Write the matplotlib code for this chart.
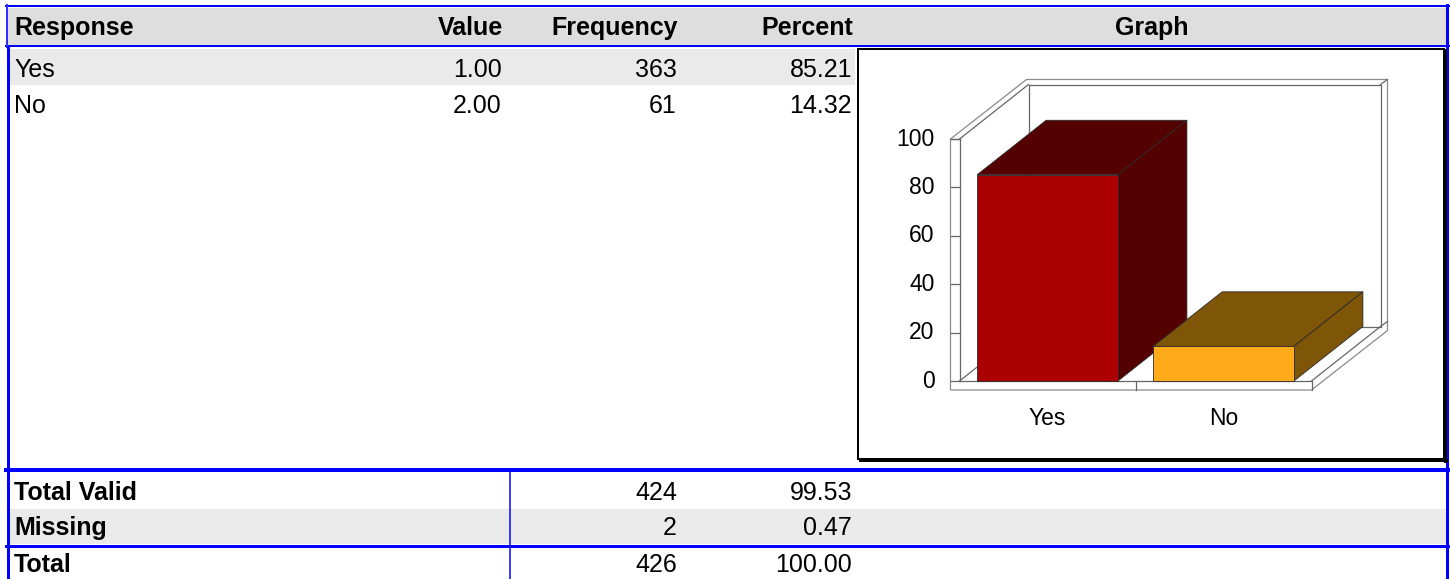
import matplotlib
matplotlib.use("Agg")
import matplotlib.pyplot as plt
from matplotlib.patches import Rectangle, Polygon
from matplotlib import font_manager

# data
responses = ["Yes", "No"]
values = [1.00, 2.00]
frequency = [363, 61]
percent = [85.21, 14.32]
summary_labels = ["Total Valid", "Missing", "Total"]
summary_freq = [424, 2, 426]
summary_pct = [99.53, 0.47, 100.00]
headers = ["Response", "Value", "Frequency", "Percent", "Graph"]
yticks = [0, 20, 40, 60, 80, 100]

front_colors = ["#AA0000", "#FFAA18"]
dark_colors = ["#550000", "#7F5508"]

names = {f.name for f in font_manager.fontManager.ttflist}
TFONT = "Liberation Sans"
CFONT = "Liberation Sans Narrow" if "Liberation Sans Narrow" in names else "Liberation Sans"
CSIZE = 19 if CFONT == "Liberation Sans Narrow" else 16.5
BLUE = "#0000FF"

W, H = 1450, 579
fig = plt.figure(figsize=(W / 100, H / 100), dpi=100)
ax = fig.add_axes([0, 0, 1, 1])
ax.set_xlim(0, W)
ax.set_ylim(H, 0)
ax.axis("off")

def px(n):
    return n * 72 / 100

def cell(x, y, s, ha, bold=False):
    ax.text(x, y, s, fontfamily=TFONT, fontsize=18, va="baseline", ha=ha,
            fontweight="bold" if bold else "normal")

# header
ax.add_patch(Rectangle((8, 8), 1438, 37, color="#DEDEDE", lw=0))
ax.plot([6, 1449], [6, 6], color=BLUE, lw=px(2))
ax.plot([6, 1449], [46, 46], color=BLUE, lw=px(2))
ax.plot([7, 7], [5, 47], color="#3030FF", lw=px(2))
ax.plot([8, 8], [47, 579], color=BLUE, lw=px(3))
ax.plot([1447.5, 1447.5], [5, 579], color=BLUE, lw=px(3))

hy = 35
cell(14, hy, headers[0], "left", True)
cell(503, hy, headers[1], "right", True)
cell(678, hy, headers[2], "right", True)
cell(853, hy, headers[3], "right", True)
cell(1152, hy, headers[4], "center", True)

# response rows
row_y = [77, 113]
ax.add_patch(Rectangle((9.5, 49), 846, 36, color="#EAEAEA", lw=0))
for i, r in enumerate(responses):
    y = row_y[i]
    cell(14, y, r, "left")
    cell(502, y, f"{values[i]:.2f}", "right")
    cell(677, y, f"{frequency[i]}", "right")
    cell(852, y, f"{percent[i]:.2f}", "right")

# graph box
ax.add_patch(Rectangle((858, 48.5), 586, 410.5, facecolor="white", edgecolor="black", lw=px(2)))
ax.plot([1445, 1445], [50, 461], color="black", lw=px(3))
ax.plot([860, 1446], [460, 460], color="black", lw=px(3))

# summary rows
ax.add_patch(Rectangle((9.5, 509), 1436.5, 35, color="#EAEAEA", lw=0))
ax.plot([6, 1449], [470, 470], color=BLUE, lw=px(4))
ax.plot([6, 1449], [545.5, 545.5], color=BLUE, lw=px(3))
ax.plot([510.5, 510.5], [471, 579], color=BLUE, lw=px(1.5))
sum_y = [500, 535, 572]
for i, lab in enumerate(summary_labels):
    y = sum_y[i]
    cell(14, y, lab, "left", True)
    cell(677, y, f"{summary_freq[i]}", "right")
    cell(852, y, f"{summary_pct[i]:.2f}", "right")

# 3D bar chart
cl, cr, ct, cb = 860, 1443, 51, 457
xs, ys = 176.0, 2.42       # pixels per category / per percent
x_zero, y_zero = 1047.5, 381
cax = fig.add_axes([cl / W, 1 - cb / H, (cr - cl) / W, (cb - ct) / H])
cax.set_xlim(-(x_zero - cl) / xs, (cr - x_zero) / xs)
cax.set_ylim(-(cb - y_zero) / ys, (y_zero - ct) / ys)
cax.axis("off")

dx, dy = 69 / xs, 54.5 / ys     # depth
tx, ty = 7 / xs, 5 / ys         # back wall thickness
L, F = 9 / xs, 9 / ys           # left wall / floor thickness
x0, x1 = -0.5, len(responses) - 0.5
top = yticks[-1]
wc = "#666666"
wlw = 0.9

outline = [(x0 - L, -F), (x0 - L, top), (x0 - L + dx + tx, top + dy + ty),
           (x1 + dx + tx, top + dy + ty), (x1 + dx + tx, -F + dy + ty), (x1, -F)]
cax.add_patch(Polygon(outline, closed=True, facecolor="white", edgecolor="#8A8A8A", lw=wlw, zorder=1))
segs = [
    [(x0, 0), (x0, top)],
    [(x0 - L, top), (x0, top)],
    [(x0, top), (x0 + dx, top + dy)],
    [(x0 + dx, dy), (x0 + dx, top + dy), (x1 + dx, top + dy), (x1 + dx, dy), (x0 + dx, dy)],
    [(x1 + dx, top + dy), (x1 + dx + tx, top + dy + ty)],
    [(x0, 0), (x0 + dx, dy)],
    [(x0, 0), (x1, 0), (x1, -F)],
    [(x1, 0), (x1 + dx, dy)],
    [(x1 + dx, dy), (x1 + dx + tx, dy + ty)],
    [(0.5, -F), (0.5, 0)],
]
for s in segs:
    cax.plot([p[0] for p in s], [p[1] for p in s], color=wc, lw=wlw, zorder=1.5)
for t in yticks:
    cax.plot([x0 - L, x0], [t, t], color=wc, lw=wlw, zorder=1.5)
    cax.text(x0 - L - 0.09, t, str(t), fontfamily=CFONT, fontsize=CSIZE, ha="right", va="center")

bw = 0.8
ec = "#2A2A2A"
for i, v in enumerate(percent):
    a, b = i - bw / 2, i + bw / 2
    cax.add_patch(Polygon([(a, v), (b, v), (b + dx, v + dy), (a + dx, v + dy)],
                          facecolor=dark_colors[i], edgecolor=ec, lw=0.6, zorder=3))
    cax.add_patch(Polygon([(b, 0), (b + dx, dy), (b + dx, v + dy), (b, v)],
                          facecolor=dark_colors[i], edgecolor=ec, lw=0.6, zorder=3))
    cax.add_patch(Rectangle((a, 0), bw, v, facecolor=front_colors[i], edgecolor=ec, lw=0.6, zorder=3))
    cax.text(i, -15.7, responses[i], fontfamily=CFONT, fontsize=CSIZE, ha="center", va="center")

fig.savefig("out.png", dpi=100)
